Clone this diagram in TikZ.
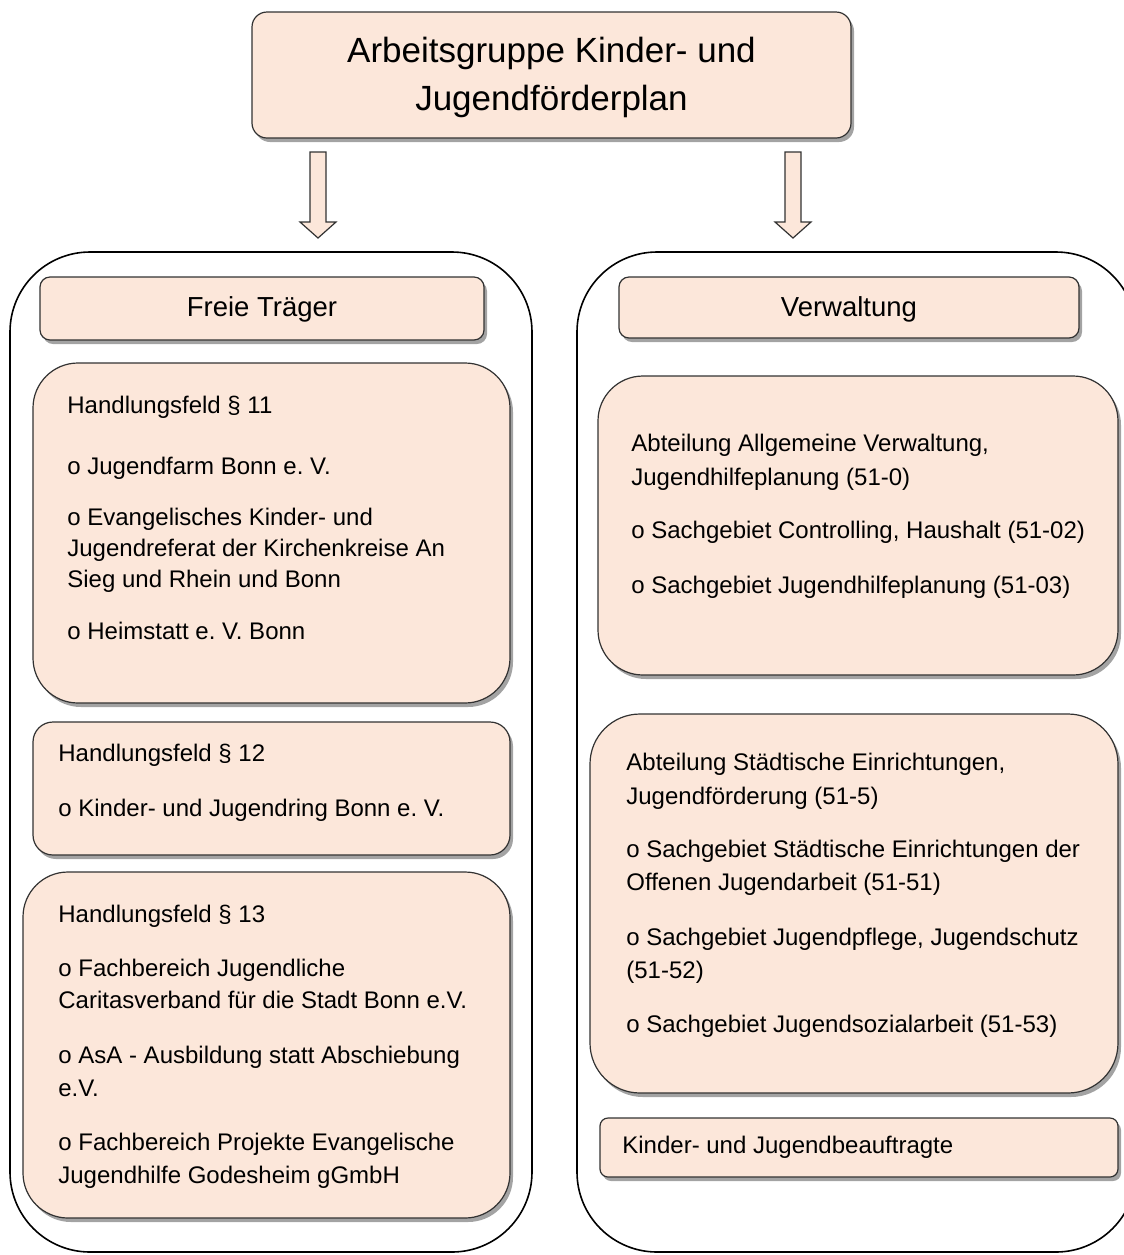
\documentclass[tikz,border=0pt]{standalone}
\usepackage{fontspec}
\setmainfont{Liberation Sans}
\usetikzlibrary{shadows,calc}
\frenchspacing
\definecolor{peach}{RGB}{252,231,218}
\definecolor{edge}{RGB}{50,50,50}
\tikzset{
  box/.style={draw=edge, line width=0.6pt, fill=peach, inner sep=0pt,
    drop shadow={shadow xshift=1.5pt, shadow yshift=-2pt, opacity=0.45, fill=black!80}},
  container/.style={draw=black, line width=0.8pt, inner sep=0pt},
  txt/.style={anchor=base west, inner sep=0pt, font=\fontsize{12}{14}\selectfont},
  head/.style={anchor=base, inner sep=0pt, font=\fontsize{13.75}{16}\selectfont},
  ttl/.style={anchor=base, inner sep=0pt, font=\fontsize{17.5}{20}\selectfont},
  blockarrow/.style={draw=edge, line width=0.6pt, fill=peach}
}
\begin{document}
\begin{tikzpicture}[x=0.5pt, y=-0.5pt]
\useasboundingbox (0,0) rectangle (1124,1255);
% containers
\node[container, rounded corners=40pt, minimum width=261pt, minimum height=500pt] (lcont) at (271,752) {};
\node[container, rounded corners=40pt, minimum width=279.5pt, minimum height=500pt] (rcont) at (856.5,752) {};
% top box
\node[box, rounded corners=7.5pt, minimum width=299.5pt, minimum height=63pt] (top) at (551.5,75) {};
\node[ttl] (t1) at (551.5,62.5) {Arbeitsgruppe Kinder- und};
\node[ttl] (t2) at (551.5,110.5) {Jugendförderplan};
% block arrows
\coordinate (la) at (318,152);
\coordinate (ra) at (793,152);
\draw[blockarrow] ($(la)+(-8,0)$) -- ($(la)+(8,0)$) -- ($(la)+(8,70)$) -- ($(la)+(18,70)$) -- ($(la)+(0,86)$) -- ($(la)+(-18,70)$) -- ($(la)+(-8,70)$) -- cycle;
\draw[blockarrow] ($(ra)+(-8,0)$) -- ($(ra)+(8,0)$) -- ($(ra)+(8,70)$) -- ($(ra)+(18,70)$) -- ($(ra)+(0,86)$) -- ($(ra)+(-18,70)$) -- ($(ra)+(-8,70)$) -- cycle;
% headers
\node[box, rounded corners=5pt, minimum width=222pt, minimum height=31.5pt] (freie) at (262,308.5) {};
\node[head] (freiet) at (262,316) {Freie Träger};
\node[box, rounded corners=5pt, minimum width=230pt, minimum height=30.5pt] (verw) at (849,307.5) {};
\node[head] (verwt) at (849,316) {Verwaltung};
% Handlungsfeld 11
\node[box, rounded corners=22.5pt, minimum width=238.5pt, minimum height=170pt] (h11) at (271.5,533) {};
\node[txt] (h11a) at (67,413) {Handlungsfeld § 11};
\node[txt] (h11b) at (67,474) {o Jugendfarm Bonn e. V.};
\node[txt] (h11c) at (67,525) {o Evangelisches Kinder- und};
\node[txt] (h11d) at (67,556) {Jugendreferat der Kirchenkreise An};
\node[txt] (h11e) at (67,587) {Sieg und Rhein und Bonn};
\node[txt] (h11f) at (67,639) {o Heimstatt e. V. Bonn};
% Handlungsfeld 12
\node[box, rounded corners=10pt, minimum width=238.5pt, minimum height=66.5pt] (h12) at (271.5,788.5) {};
\node[txt] (h12a) at (58,761) {Handlungsfeld § 12};
\node[txt] (h12b) at (58,816) {o Kinder- und Jugendring Bonn e. V.};
% Handlungsfeld 13
\node[box, rounded corners=22.5pt, minimum width=243.5pt, minimum height=173pt] (h13) at (266.5,1045) {};
\node[txt] (h13a) at (58,922) {Handlungsfeld § 13};
\node[txt] (h13b) at (58,976) {o Fachbereich Jugendliche};
\node[txt] (h13c) at (58,1008) {Caritasverband für die Stadt Bonn e.V.};
\node[txt] (h13d) at (58,1063) {o AsA - Ausbildung statt Abschiebung};
\node[txt] (h13e) at (58,1096) {e.V.};
\node[txt] (h13f) at (58,1150) {o Fachbereich Projekte Evangelische};
\node[txt] (h13g) at (58,1183) {Jugendhilfe Godesheim gGmbH};
% Right box 1
\node[box, rounded corners=22.5pt, minimum width=260pt, minimum height=149.5pt] (r1) at (858,525.5) {};
\node[txt] (r1a) at (631,451) {Abteilung Allgemeine Verwaltung,};
\node[txt] (r1b) at (631,485) {Jugendhilfeplanung (51-0)};
\node[txt] (r1c) at (631,538) {o Sachgebiet Controlling, Haushalt (51-02)};
\node[txt] (r1d) at (631,593) {o Sachgebiet Jugendhilfeplanung (51-03)};
% Right box 2
\node[box, rounded corners=25pt, minimum width=264pt, minimum height=189.5pt] (r2) at (854,903.5) {};
\node[txt] (r2a) at (626,770) {Abteilung Städtische Einrichtungen,};
\node[txt] (r2b) at (626,804) {Jugendförderung (51-5)};
\node[txt] (r2c) at (626,857) {o Sachgebiet Städtische Einrichtungen der};
\node[txt] (r2d) at (626,890) {Offenen Jugendarbeit (51-51)};
\node[txt] (r2e) at (626,945) {o Sachgebiet Jugendpflege, Jugendschutz};
\node[txt] (r2f) at (626,978) {(51-52)};
\node[txt] (r2g) at (626,1032) {o Sachgebiet Jugendsozialarbeit (51-53)};
% Kinder- und Jugendbeauftragte
\node[box, rounded corners=4pt, minimum width=259pt, minimum height=29.5pt] (kjb) at (859,1147.5) {};
\node[txt] (kjbt) at (622,1153) {Kinder- und Jugendbeauftragte};
\end{tikzpicture}
\end{document}
